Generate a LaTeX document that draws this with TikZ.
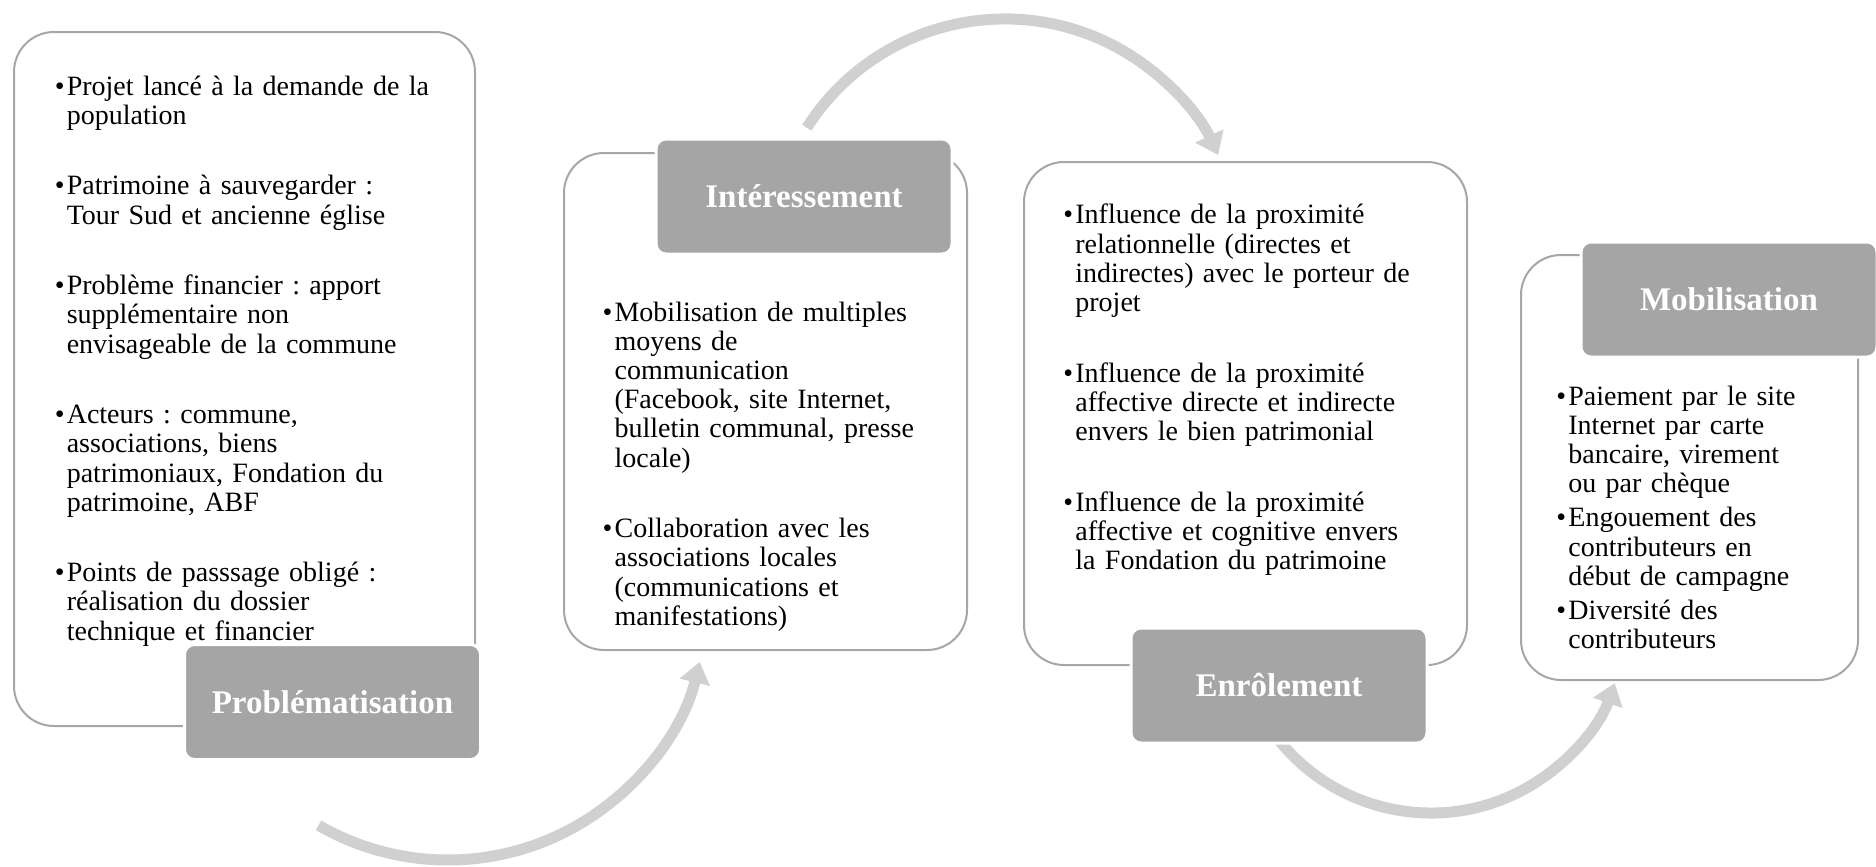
\documentclass[tikz,border=0pt]{standalone}
\usepackage{fontspec}
\setmainfont{Liberation Serif}
\usetikzlibrary{arrows.meta, positioning}
\definecolor{cadre}{RGB}{166,166,166}
\definecolor{etiquette}{RGB}{165,165,165}
\definecolor{fleche}{RGB}{208,208,208}
\newlength{\pucew}
\setlength{\pucew}{6pt}
\newlength{\ecart}
\newcommand{\puce}{\par\noindent\hangindent=\pucew\hangafter=1\makebox[\pucew][l]{\textbullet}}
\newcommand{\suite}{\par\vspace{\ecart}\puce}

\begin{document}
\frenchspacing
\begin{tikzpicture}[x=0.5pt, y=0.5pt,
  panel/.style={draw=cadre, line width=1pt, fill=white,
    rounded corners=20pt, inner sep=0pt},
  etape/.style={draw=white, line width=1.5pt, fill=etiquette,
    rounded corners=5pt, minimum width=148pt, minimum height=57.5pt,
    inner sep=0pt, text=white, font=\fontsize{16.5}{19}\selectfont\bfseries},
  corps/.style={text width=250pt, align=left, inner sep=0pt,
    font=\fontsize{14}{14.6}\selectfont,
    execute at begin node={\setlength{\ecart}{#1}}},
  corps/.default=20.7pt,
  boucle/.style={draw=fleche, line width=5.5pt,
    -{Triangle[length=10.5pt, width=15pt]}}]

  \useasboundingbox (0,0) rectangle (1876,-867);

  % Cycle arrows
  \coordinate (a1) at (318.5,-825.3);
  \coordinate (a2) at (806.8,-127.7);
  \coordinate (a3) at (1262.1,-715.5);
  \draw[boucle] (a1) arc[start angle=-120, end angle=-13.6, radius=129.5pt];
  \draw[boucle] (a2) arc[start angle=147.5, end angle=24.9, radius=117.5pt];
  \draw[boucle] (a3) arc[start angle=-150, end angle=-19.5, radius=97.5pt];

  % Stage panels
  \node[panel, minimum width=230.5pt, minimum height=347pt] (p1) at (244.5,-379) {};
  \node[panel, minimum width=201.5pt, minimum height=248.5pt] (p2) at (765.5,-401.5) {};
  \node[panel, minimum width=221.5pt, minimum height=251.5pt] (p3) at (1245.5,-413.5) {};
  \node[panel, minimum width=168.5pt, minimum height=212.5pt] (p4) at (1689.5,-467.5) {};

  % Panel texts
  \node[corps, below right=17.2pt and 20.7pt of p1.north west] (t1)
    {\puce Projet lancé à la demande de la\newline population
     \suite Patrimoine à sauvegarder :\newline Tour Sud et ancienne église
     \suite Problème financier : apport\newline supplémentaire non\newline envisageable de la commune
     \suite Acteurs : commune,\newline associations, biens\newline patrimoniaux, Fondation du\newline patrimoine, ABF
     \suite Points de passsage obligé :\newline réalisation du dossier\newline technique et financier\par};
  \node[corps, below right=69.7pt and 19.6pt of p2.north west] (t2)
    {\puce Mobilisation de multiples\newline moyens de\newline communication\newline (Facebook, site Internet,\newline bulletin communal, presse\newline locale)
     \suite Collaboration avec les\newline associations locales\newline (communications et\newline manifestations)\par};
  \node[corps, below right=16.7pt and 20pt of p3.north west] (t3)
    {\puce Influence de la proximité\newline relationnelle (directes et\newline indirectes) avec le porteur de\newline projet
     \suite Influence de la proximité\newline affective directe et indirecte\newline envers le bien patrimonial
     \suite Influence de la proximité\newline affective et cognitive envers\newline la Fondation du patrimoine\par};
  \node[corps=2.5pt, below right=60.7pt and 18pt of p4.north west] (t4)
    {\puce Paiement par le site\newline Internet par carte\newline bancaire, virement\newline ou par chèque
     \suite Engouement des\newline contributeurs en\newline début de campagne
     \suite Diversité des\newline contributeurs\par};

  % Stage titles
  \node[etape] (e1) at (332.5,-702) {Problématisation};
  \node[etape] (e2) at (804,-196.5) {Intéressement};
  \node[etape] (e3) at (1279,-685.5) {Enrôlement};
  \node[etape] (e4) at (1729,-299.5) {Mobilisation};
\end{tikzpicture}
\end{document}
